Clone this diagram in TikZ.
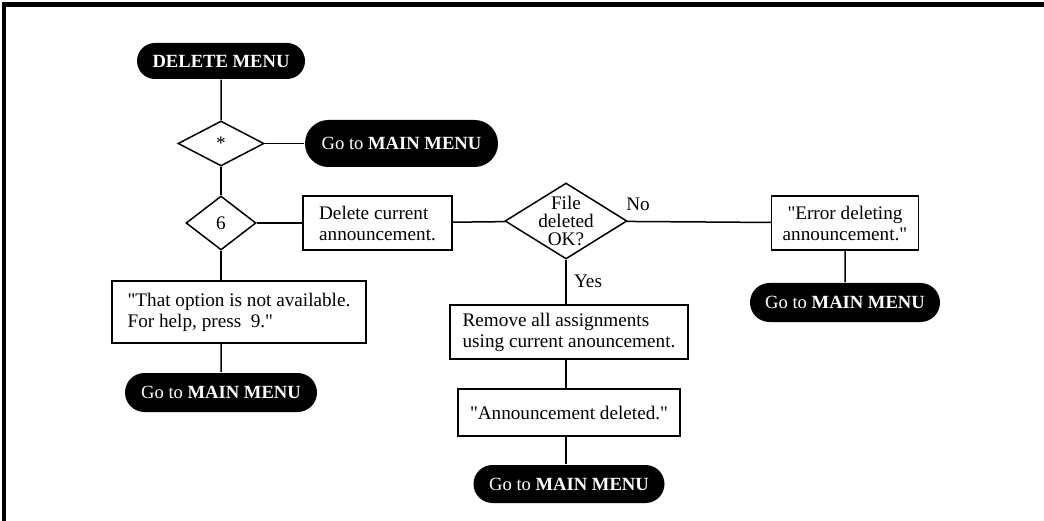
\documentclass[tikz,border=0pt]{standalone}
\usepackage{fontspec}
\setmainfont{Liberation Serif}[Ligatures=TeXOff]
\usetikzlibrary{shapes.geometric,shapes.misc}
\newcommand{\dq}{\symbol{34}}

\begin{document}
\begin{tikzpicture}[x=1pt,y=-1pt,line width=1.5pt,
  font=\fontsize{19.2}{21}\selectfont,
  pill/.style={rounded rectangle,fill=black,text=white,inner sep=0pt,font=\fontsize{18.6}{21}\selectfont},
  txtbox/.style={draw,rectangle,inner sep=0pt},
  dmd/.style={draw,diamond,inner sep=0pt}]
\useasboundingbox (0,0) rectangle (1044,521);
\draw[line width=4.5pt] (4,521)--(4,4.5)--(1044,4.5);
\node[pill,minimum width=168,minimum height=36] (delmenu) at (221,61) {\textbf{DELETE MENU}};
\node[dmd,minimum width=86,minimum height=45] (dstar) at (221,143.5) {*};
\node[pill,minimum width=193,minimum height=47] (gomainA) at (401.5,143.5) {Go to \textbf{MAIN MENU}};
\node[dmd,minimum width=70,minimum height=54] (dsix) at (221,223) {6};
\node[txtbox,minimum width=149,minimum height=54,align=left] (delcur) at (377.5,223) {Delete current\\announcement.};
\node[dmd,minimum width=122,minimum height=76] (dfile) at (566,221) {};
\node[align=center,inner sep=0pt,font=\fontsize{19.2}{18}\selectfont] (dfiletxt) at (566,221) {File\\deleted\\OK?};
\node (no) at (638,204) {No};
\node[txtbox,minimum width=147,minimum height=54,align=center] (errdel) at (845,223) {\dq Error deleting\\announcement.\dq};
\node[pill,minimum width=190,minimum height=39] (gomainB) at (845,302.5) {Go to \textbf{MAIN MENU}};
\node (yes) at (588,281) {Yes};
\node[txtbox,minimum width=238,minimum height=54,align=left] (remall) at (569,332) {Remove all assignments\\using current anouncement.};
\node[txtbox,minimum width=222,minimum height=47,align=center] (anndel) at (569,412.5) {\dq Announcement deleted.\dq};
\node[pill,minimum width=191,minimum height=38] (gomainC) at (569,484) {Go to \textbf{MAIN MENU}};
\node[txtbox,minimum width=254,minimum height=62,align=left] (notavail) at (239,312) {\dq That option is not available.\\For help, press~~9.\dq};
\node[pill,minimum width=192,minimum height=39] (gomainD) at (221,392.5) {Go to \textbf{MAIN MENU}};
\draw (delmenu)--(dstar);\draw (dstar)--(dsix);
\draw (dstar)--(gomainA);
\draw (dsix)--(delcur);\draw (delcur)--(dfile);
\draw (dfile)--(errdel);\draw (errdel)--(gomainB);
\draw (dsix.south)--(dsix.south|-notavail.north);
\draw (gomainD.north|-notavail.south)--(gomainD);
\draw (dfile.south)--(dfile.south|-remall.north);
\draw (dfile.south|-remall.south)--(dfile.south|-anndel.north);
\draw (dfile.south|-anndel.south)--(dfile.south|-gomainC.north);
\end{tikzpicture}
\end{document}
